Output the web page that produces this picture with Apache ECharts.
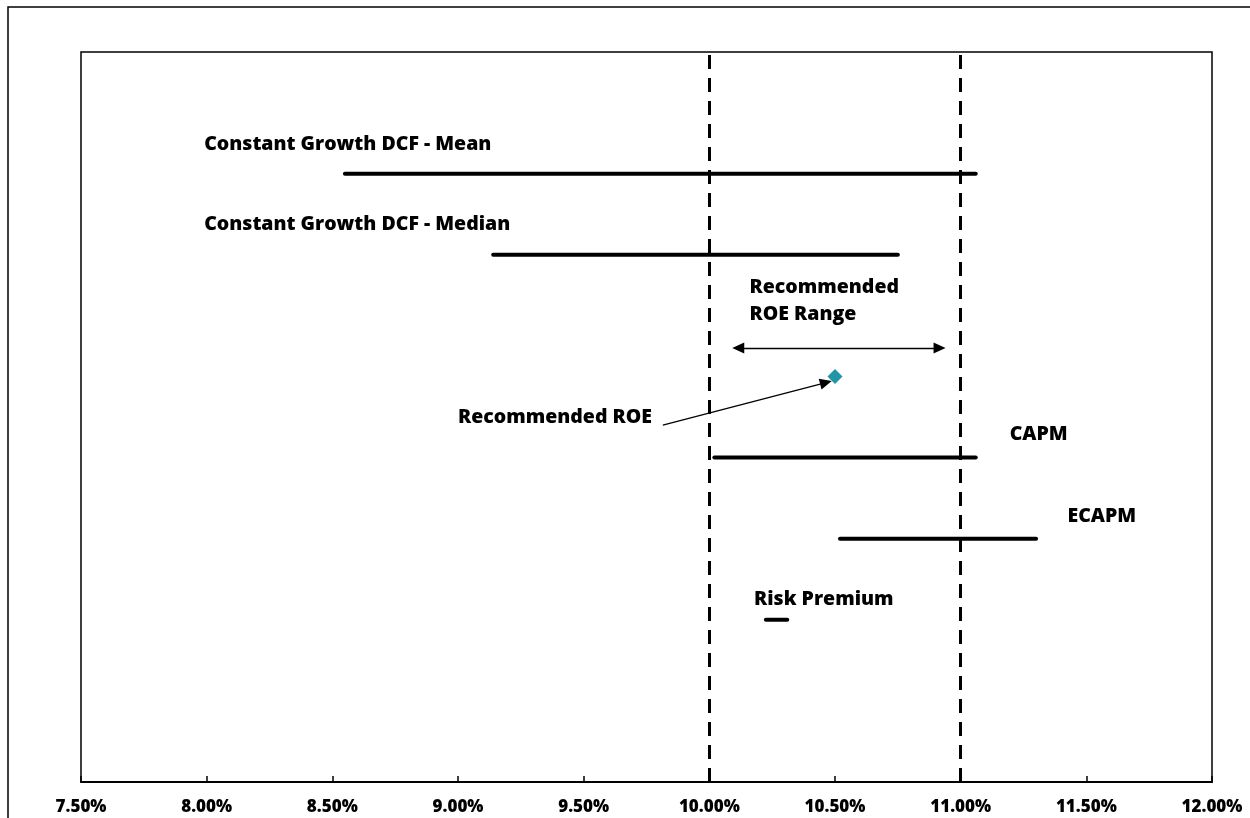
<!DOCTYPE html>
<html>
<head>
<meta charset="utf-8">
<script src="https://cdn.jsdelivr.net/npm/echarts@6/dist/echarts.min.js"></script>
<style>
  html, body { margin: 0; padding: 0; background: #fff; }
  #chart { width: 1250px; height: 818px; }
</style>
</head>
<body>
<div id="chart"></div>
<script>
// ROE estimate ranges (percent) by method
const methods = ['Constant Growth DCF - Mean', 'Constant Growth DCF - Median', 'CAPM', 'ECAPM', 'Risk Premium'];
const rangeLow = [8.55, 9.14, 10.02, 10.52, 10.225];
const rangeHigh = [11.06, 10.75, 11.06, 11.30, 10.31];
const rowLevel = [7.5, 6.5, 4, 3, 2];

// Recommended ROE point and range
const recommendedROE = 10.50;
const recommendedLevel = 5;
const rangeBounds = [10, 11];
const rangeArrow = [10.115, 10.916];
const rangeArrowLevel = 5.35;

// Axis ticks
const xMin = 7.5, xMax = 12, xStep = 0.5;

// Text annotations: [x, y, text]
const labelX = [7.99, 7.99, 10.16, 9.0, 11.195, 11.425, 10.178];
const labelY = [7.86, 6.88, 5.93, 4.49, 4.29, 3.28, 2.25];
const labelText = [
  'Constant Growth DCF - Mean',
  'Constant Growth DCF - Median',
  'Recommended\nROE Range',
  'Recommended ROE',
  'CAPM',
  'ECAPM',
  'Risk Premium'
];
// pointer from the "Recommended ROE" label to the point
const pointerFrom = [9.815, 4.40];
const pointerTo = [10.464, 4.924];

const FONT = '"Open Sans"';
const chart = echarts.init(document.getElementById('chart'), null, { renderer: 'canvas' });

const rangeSeries = methods.map((m, i) => ({
  name: m,
  type: 'line',
  data: [[rangeLow[i], rowLevel[i]], [rangeHigh[i], rowLevel[i]]],
  symbol: 'none',
  lineStyle: { color: '#000', width: 4, cap: 'round' },
  silent: true,
  z: 3
}));

const option = {
  animation: false,
  backgroundColor: '#fff',
  graphic: [{
    type: 'rect',
    shape: { x: 8, y: 7, width: 1270, height: 840 },
    style: { fill: 'none', stroke: '#000', lineWidth: 1.5 },
    silent: true
  }],
  grid: {
    left: 81, right: 38, top: 52, bottom: 36,
    show: true, borderColor: '#000', borderWidth: 1.5, backgroundColor: 'transparent'
  },
  xAxis: {
    type: 'value',
    min: xMin, max: xMax, interval: xStep,
    axisLine: { show: true, lineStyle: { color: '#000', width: 2 } },
    axisTick: { show: true, inside: true, length: 6, lineStyle: { color: '#000', width: 1.5 } },
    splitLine: { show: false },
    axisLabel: {
      formatter: v => v.toFixed(2) + '%',
      color: '#000', fontFamily: FONT, fontWeight: 800, fontSize: 17, margin: 17
    }
  },
  yAxis: {
    type: 'value', min: 0, max: 9, show: false, splitLine: { show: false }
  },
  series: [
    ...rangeSeries,
    {
      name: 'bounds',
      type: 'line',
      data: [],
      silent: true,
      markLine: {
        silent: true,
        symbol: 'none',
        label: { show: false },
        lineStyle: { color: '#000', width: 3, type: [14, 9] },
        data: rangeBounds.map(v => ({ xAxis: v }))
      },
      z: 2
    },
    {
      name: 'arrows',
      type: 'line',
      data: [],
      silent: true,
      markLine: {
        silent: true,
        label: { show: false },
        lineStyle: { color: '#000', width: 1.3, type: 'solid' },
        symbol: ['triangle', 'triangle'],
        symbolSize: [11, 12],
        data: [
          [{ coord: [rangeArrow[0], rangeArrowLevel], symbol: 'triangle' },
           { coord: [rangeArrow[1], rangeArrowLevel], symbol: 'triangle' }],
          [{ coord: pointerFrom, symbol: 'none' },
           { coord: pointerTo, symbol: 'triangle' }]
        ]
      },
      z: 4
    },
    {
      name: 'Recommended ROE',
      type: 'scatter',
      data: [[recommendedROE, recommendedLevel]],
      symbol: 'diamond',
      symbolSize: [15, 15],
      itemStyle: { color: '#2196A6', opacity: 1 },
      silent: true,
      z: 5
    },
    {
      name: 'labels',
      type: 'scatter',
      data: labelX.map((x, i) => [x, labelY[i], labelText[i]]),
      symbolSize: 0,
      itemStyle: { opacity: 1 },
      silent: true,
      label: {
        show: true,
        position: 'right',
        distance: 0,
        formatter: p => p.data[2],
        color: '#000',
        textBorderWidth: 0,
        fontFamily: FONT,
        fontWeight: 800,
        fontSize: 19.5,
        lineHeight: 27
      },
      z: 6
    }
  ]
};
chart.setOption(option);
</script>
</body>
</html>
